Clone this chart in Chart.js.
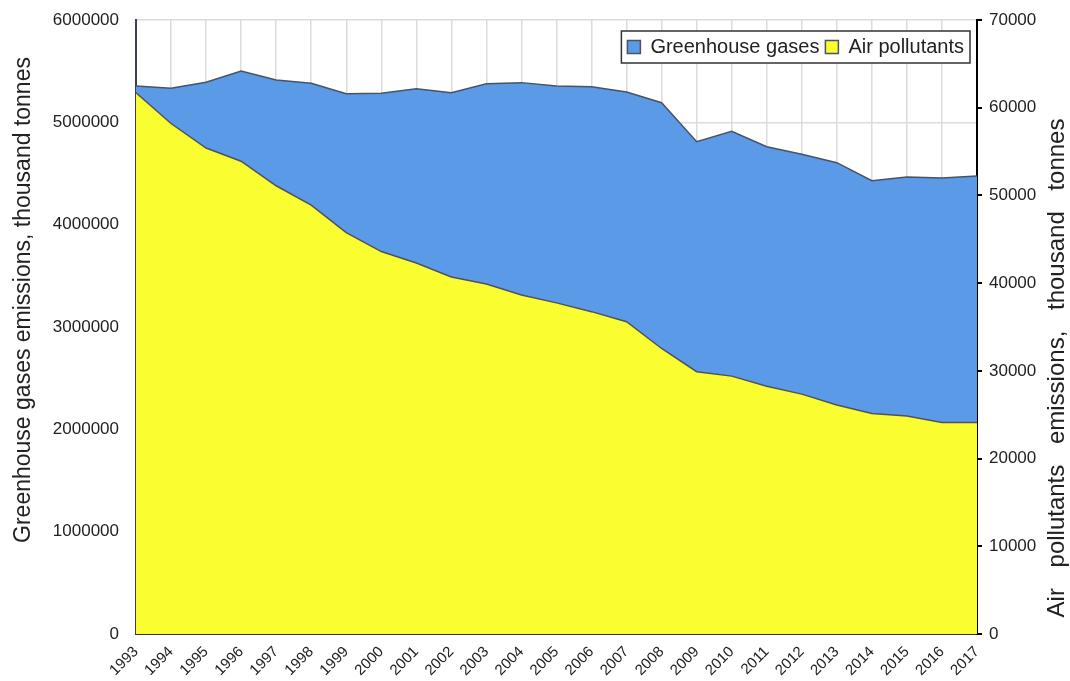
<!DOCTYPE html>
<html>
<head>
<meta charset="utf-8">
<script src="https://cdn.jsdelivr.net/npm/chart.js@4/dist/chart.umd.min.js"></script>
<style>
  html, body { margin: 0; padding: 0; background: #fff; }
  #wrap { width: 1070px; height: 681px; }
</style>
</head>
<body>
<div id="wrap"><canvas id="emissionsChart" width="1070" height="681"></canvas></div>
<script>
// Data
const years = ['1993', '1994', '1995', '1996', '1997', '1998', '1999', '2000', '2001', '2002', '2003', '2004',
    '2005', '2006', '2007', '2008', '2009', '2010', '2011', '2012', '2013', '2014', '2015', '2016', '2017'];
const greenhouseGases = [5355000, 5333000, 5391000, 5502000, 5414000, 5381000, 5280000, 5284000, 5329000,
    5290000, 5378000, 5388000, 5355000, 5348000, 5296000, 5192000, 4811000, 4912000, 4762000, 4688000,
    4606000, 4430000, 4466000, 4456000, 4476000];
const airPollutants = [61700, 58200, 55400, 53900, 51100, 48900, 45750, 43600, 42300, 40700, 39900, 38650,
    37750, 36750, 35600, 32550, 29900, 29400, 28250, 27350, 26100, 25150, 24850, 24100, 24100];
const leftTicks = [0, 1000000, 2000000, 3000000, 4000000, 5000000, 6000000];
const rightTicks = [0, 10000, 20000, 30000, 40000, 50000, 60000, 70000];

const leftTitle = 'Greenhouse gases emissions, thousand tonnes';
const rightTitle = 'Air pollutants emissions, thousand tonnes';

const FONT = "'Liberation Sans', Arial, sans-serif";
Chart.defaults.font.family = FONT;
Chart.defaults.color = '#222';

// Axis titles, both read bottom to top like the original
function drawVerticalText(ctx, text, x, y, size, spacing) {
    ctx.save();
    ctx.fillStyle = '#222';
    ctx.font = size + 'px ' + FONT;
    ctx.textAlign = 'center';
    ctx.textBaseline = 'middle';
    if ('wordSpacing' in ctx) ctx.wordSpacing = spacing + 'px';
    ctx.translate(x, y);
    ctx.rotate(-Math.PI / 2);
    ctx.fillText(text, 0, 0);
    ctx.restore();
}

const axisTitles = {
    id: 'axisTitles',
    afterDraw(chart) {
        drawVerticalText(chart.ctx, leftTitle, 24, 300, 23, 0);
        drawVerticalText(chart.ctx, rightTitle, 1057, 368, 24, 14);
    }
};

// Put the legend inside the plot, top right
const legendInside = {
    id: 'legendInside',
    afterLayout(chart) {
        const lg = chart.legend;
        const area = chart.chartArea;
        const pad = lg.options.labels.padding;
        lg.right = area.right - 7;
        lg.left = lg.right - lg.lineWidths[0] - pad;
        lg.top = area.top + 11;
        lg.height = 32;
        lg.bottom = lg.top + lg.height;
        lg.width = lg.right - lg.left;
    }
};

// fixed axis sizes so the plot area sits where it does in the original
function fixVertical(width) {
    return (scale) => {
        scale.width = width;
        scale.paddingTop = 0;
        scale.paddingBottom = 0;
    };
}

const ctx = document.getElementById('emissionsChart').getContext('2d');
const chart = new Chart(ctx, {
    type: 'line',
    data: {
        labels: years,
        datasets: [
            {
                label: 'Greenhouse gases',
                data: greenhouseGases,
                yAxisID: 'y',
                backgroundColor: '#5b9ae6',
                borderColor: '#4b5263',
                borderWidth: 1.5,
                fill: 'origin',
                tension: 0,
                pointRadius: 0,
                order: 2
            },
            {
                label: 'Air pollutants',
                data: airPollutants,
                yAxisID: 'y1',
                backgroundColor: '#fafd2f',
                borderColor: '#4b5263',
                borderWidth: 1.5,
                fill: 'origin',
                tension: 0,
                pointRadius: 0,
                order: 1
            }
        ]
    },
    options: {
        responsive: false,
        animation: false,
        layout: {
            padding: { top: 20, left: 0, right: 0, bottom: 0 }
        },
        plugins: {
            legend: {
                position: 'top',
                align: 'end',
                labels: {
                    boxWidth: 13,
                    boxHeight: 13,
                    padding: 6,
                    color: '#222',
                    font: { size: 20 },
                    sort: (a, b) => a.datasetIndex - b.datasetIndex
                }
            },
            tooltip: { enabled: false }
        },
        scales: {
            x: {
                offset: false,
                grid: {
                    color: '#dcdcdc',
                    lineWidth: 1.5,
                    drawTicks: false
                },
                border: { color: '#333', width: 2 },
                ticks: {
                    autoSkip: false,
                    minRotation: 45,
                    maxRotation: 45,
                    padding: 9,
                    color: '#222',
                    font: { size: 15 }
                },
                afterFit: (scale) => { scale.height = 47; }
            },
            y: {
                position: 'left',
                min: 0,
                max: 6000000,
                afterBuildTicks: (scale) => { scale.ticks = leftTicks.map(v => ({ value: v })); },
                grid: {
                    color: '#dcdcdc',
                    lineWidth: 1.5,
                    drawTicks: false
                },
                border: { color: '#3c4254', width: 2 },
                ticks: {
                    padding: 17,
                    color: '#222',
                    font: { size: 17 },
                    callback: (v) => String(v)
                },
                afterFit: fixVertical(136)
            },
            y1: {
                position: 'right',
                min: 0,
                max: 70000,
                afterBuildTicks: (scale) => { scale.ticks = rightTicks.map(v => ({ value: v })); },
                grid: {
                    drawOnChartArea: false,
                    drawTicks: true,
                    tickLength: 5,
                    color: '#000',
                    lineWidth: 2
                },
                border: { color: '#000', width: 2 },
                ticks: {
                    padding: 7,
                    color: '#222',
                    font: { size: 17 },
                    callback: (v) => String(v)
                },
                afterFit: fixVertical(93)
            }
        }
    },
    plugins: [legendInside, axisTitles]
});

// Legend takes no layout space; it is drawn with a white framed box
const lg = chart.legend;
const fitLegend = lg.fit.bind(lg);
lg.fit = function () { fitLegend(); this.height = 0; };
const drawLegend = lg.draw.bind(lg);
lg.draw = function (area) {
    const c = this.ctx;
    c.save();
    c.fillStyle = '#fff';
    c.fillRect(this.left, this.top, this.width, this.height);
    c.strokeStyle = '#333';
    c.lineWidth = 1.5;
    c.strokeRect(this.left, this.top, this.width, this.height);
    c.restore();
    drawLegend(area);
};
chart.update();
</script>
</body>
</html>
